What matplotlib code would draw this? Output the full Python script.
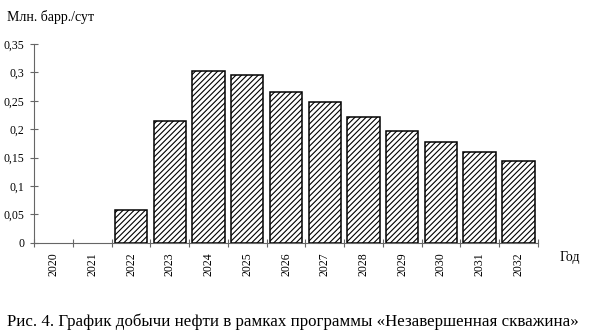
import matplotlib
matplotlib.use("Agg")
import matplotlib.pyplot as plt
import numpy as np

years = ["2020", "2021", "2022", "2023", "2024", "2025", "2026",
         "2027", "2028", "2029", "2030", "2031", "2032"]
production = [0, 0, 0.058, 0.214, 0.303, 0.296, 0.266,
              0.247, 0.221, 0.197, 0.178, 0.160, 0.144]
y_ticks = [0, 0.05, 0.1, 0.15, 0.2, 0.25, 0.3, 0.35]
y_tick_labels = ["0", "0,05", "0,1", "0,15", "0,2", "0,25", "0,3", "0,35"]
y_label = "Млн. барр./сут"
x_label = "Год"
caption = "Рис. 4. График добычи нефти в рамках программы «Незавершенная скважина»"

plt.rcParams['font.family'] = ['Liberation Serif', 'DejaVu Serif']
plt.rcParams['hatch.linewidth'] = 0.8

fig = plt.figure(figsize=(5.95, 3.34), dpi=100)
ax = fig.add_axes([0.0577, 0.2734, 0.8460, 0.5950])

x = np.arange(len(years))
vals = np.array(production)
mask = vals > 0
ax.bar(x[mask], vals[mask], width=0.835, facecolor='white', edgecolor='black',
       linewidth=1.1, hatch='//////')

ax.set_xlim(-0.5, len(years) - 0.5)
ax.set_ylim(0, 0.35)
ax.set_yticks(y_ticks)
ax.set_yticklabels(y_tick_labels, fontsize=8.5)
ax.set_xticks(x)
ax.set_xticklabels(years, rotation=90, fontsize=8.5)
ax.tick_params(axis='x', length=0, pad=7)
ax.set_xticks(np.arange(len(years) + 1) - 0.5, minor=True)
ax.tick_params(axis='x', which='minor', direction='inout', length=6, color='#666666', width=0.8)
ax.tick_params(axis='y', direction='inout', length=6, color='#666666', width=0.8, pad=4)

for s in ['top', 'right']:
    ax.spines[s].set_visible(False)
for s in ['left', 'bottom']:
    ax.spines[s].set_color('#666666')
    ax.spines[s].set_linewidth(0.8)

fig.text(7 / 595, 1 - 17 / 334, y_label, fontsize=10, va='center', ha='left')
fig.text(560 / 595, 1 - 257 / 334, x_label, fontsize=10, va='center', ha='left')
fig.text(7 / 595, 1 - 322 / 334, caption, fontsize=12.2, va='center', ha='left')

fig.savefig("out.png", dpi=100)
